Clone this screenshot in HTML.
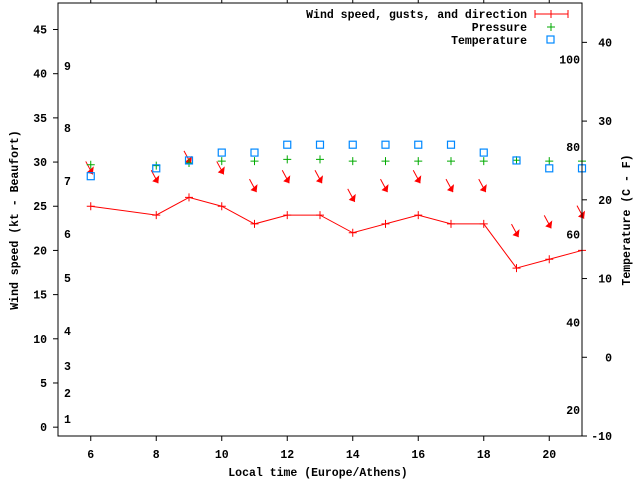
<!DOCTYPE html>
<html><head><meta charset="utf-8"><style>
html,body{margin:0;padding:0;background:#fff;}
svg{display:block;font-family:"Liberation Mono",monospace;font-weight:bold;font-size:11.5px;}
</style></head><body>
<svg id="chart" width="640" height="480" viewBox="0 0 640 480" xmlns="http://www.w3.org/2000/svg">
<rect x="0" y="0" width="640" height="480" fill="#fff"/>
<g id="axes"></g>
<g id="series"></g>
<rect x="58" y="3" width="524" height="433" fill="none" stroke="#000" stroke-width="1"/>
<text transform="translate(18,220) rotate(-90)" text-anchor="middle">Wind speed (kt - Beaufort)</text>
<text transform="translate(630,220) rotate(-90)" text-anchor="middle">Temperature (C - F)</text>
<text x="318" y="476" text-anchor="middle">Local time (Europe/Athens)</text>
<g>
<text x="527" y="18" text-anchor="end">Wind speed, gusts, and direction</text>
<line x1="535" y1="14" x2="568" y2="14" stroke="#f00"/><line x1="535" y1="10" x2="535" y2="18" stroke="#f00"/><line x1="568" y1="10" x2="568" y2="18" stroke="#f00"/><line x1="551" y1="10" x2="551" y2="18" stroke="#f00"/>
<text x="527" y="31" text-anchor="end">Pressure</text>
<path d="M547 27h8M551 23v8" stroke="#0a0" stroke-width="1"/>
<text x="527" y="44" text-anchor="end">Temperature</text>
<rect x="547" y="36" width="7" height="7" fill="none" stroke="#08f" stroke-width="1.2"/>
</g>
</svg>
<script>
const hours=[6,8,9,10,11,12,13,14,15,16,17,18,19,20,21];
const windSpeed=[25,24,26,25,23,24,24,22,23,24,23,23,18,19,20];
const gusts=[28.6,27.6,29.8,28.6,26.6,27.6,27.6,25.5,26.6,27.6,26.6,26.6,21.5,22.5,23.6];
const pressure=[29.7,29.6,29.9,30.1,30.1,30.3,30.3,30.1,30.1,30.1,30.1,30.1,30.2,30.1,30.1];
const temperature=[23,24,25,26,26,27,27,27,27,27,27,26,25,24,24];
const xTicks=[6,8,10,12,14,16,18,20];
const yTicks=[0,5,10,15,20,25,30,35,40,45];
const y2Ticks=[-10,0,10,20,30,40];
const beaufortLabels=[["1",419],["2",393],["3",366],["4",331],["5",278],["6",234],["7",181],["8",128],["9",66]];
const fahrenheitLabels=[[20,-6.7],[40,4.4],[60,15.6],[80,26.7],[100,37.8]];
const NS="http://www.w3.org/2000/svg";
const X=h=>58+(h-5)*(524/16);
const Y=v=>436-(v+1)*(433/49);
const Y2=c=>436-(c+10)*(433/55);
function mk(tag,attrs,parent,txt){const e=document.createElementNS(NS,tag);for(const k in attrs)e.setAttribute(k,attrs[k]);if(txt!==undefined)e.textContent=txt;parent.appendChild(e);return e;}
const ax=document.getElementById('axes'),se=document.getElementById('series');
xTicks.forEach(t=>{const x=X(t);
 const l=mk('path',{d:`M${x} 436v5M${x} 3v-5`,stroke:'#000'},ax);
 
 
 const tx=mk('text',{x:x,y:458,'text-anchor':'middle'},ax,String(t));
 
 });
yTicks.forEach(t=>{const y=Y(t);
 const l=mk('path',{d:`M58 ${y}h-5`,stroke:'#000'},ax);
 
 
 const tx=mk('text',{x:47,y:y+4,'text-anchor':'end'},ax,String(t));
 
 });
y2Ticks.forEach(t=>{const y=Y2(t);
 const l=mk('path',{d:`M582 ${y}h5`,stroke:'#000'},ax);
 
 
 const tx=mk('text',{x:612,y:y+4,'text-anchor':'end'},ax,String(t));
 
 });
beaufortLabels.forEach(b=>{const tx=mk('text',{x:64,y:b[1]+4},ax,b[0]);
 
 });
fahrenheitLabels.forEach(f=>{const tx=mk('text',{x:580,y:Y2(f[1])+4,'text-anchor':'end'},ax,String(f[0]));
 
 });
// wind line
const pl=mk('polyline',{points:hours.map((h,i)=>X(h)+','+Y(windSpeed[i])).join(' '),fill:'none',stroke:'#f00'},se);


hours.forEach((h,i)=>{const x=X(h),y=Y(windSpeed[i]);
 const p=mk('path',{d:`M${x-4} ${y}h8M${x} ${y-4}v8`,stroke:'#f00'},se);
 
 });
// direction arrows at gust heights
hours.forEach((h,i)=>{const x=X(h)+2,y=Y(gusts[i]);
 const g=mk('g',{},se);
 
 
 mk('line',{x1:x-7,y1:y-13,x2:x,y2:y,stroke:'#f00'},g);
 mk('polygon',{points:`${x},${y} ${x-6},${y-2} ${x+1},${y-8}`,fill:'#f00'},g);});
hours.forEach((h,i)=>{const x=X(h),y=Y(pressure[i]);
 const p=mk('path',{d:`M${x-4} ${y}h8M${x} ${y-4}v8`,stroke:'#0a0'},se);
 
 });
hours.forEach((h,i)=>{const x=X(h),y=Y2(temperature[i]);
 const r=mk('rect',{x:x-3.5,y:y-3.5,width:7,height:7,fill:'none',stroke:'#08f','stroke-width':1.2},se);
 
 });
</script>
</body></html>
